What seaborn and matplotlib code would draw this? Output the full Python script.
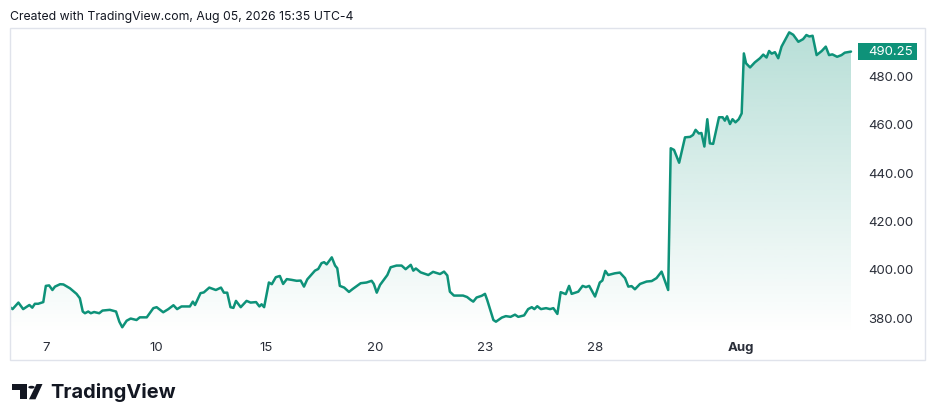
import numpy as np
import pandas as pd
import matplotlib
matplotlib.use("Agg")
import matplotlib.pyplot as plt
import seaborn as sns
from matplotlib.patches import Rectangle, Polygon, Circle
from matplotlib.transforms import blended_transform_factory

# ---- data (time in trading days since Jul 6, price) ----
t = [0.00, 0.07, 0.23, 0.36, 0.53, 0.61, 0.68, 0.77, 0.91, 0.98,
     1.07, 1.16, 1.23, 1.37, 1.46, 1.64, 1.82, 1.91, 1.99, 2.05,
     2.14, 2.21, 2.30, 2.44, 2.53, 2.73, 2.90, 2.99, 3.07, 3.19,
     3.30, 3.46, 3.55, 3.74, 3.92, 4.01, 4.19, 4.33, 4.47, 4.57,
     4.69, 4.92, 5.00, 5.06, 5.21, 5.30, 5.45, 5.63, 5.77, 5.85,
     5.94, 6.03, 6.11, 6.18, 6.31, 6.47, 6.58, 6.73, 6.82, 6.88,
     6.95, 7.08, 7.16, 7.27, 7.38, 7.47, 7.57, 7.70, 7.84, 7.95,
     8.04, 8.13, 8.34, 8.43, 8.52, 8.59, 8.66, 8.80, 8.89, 8.95,
     9.02, 9.14, 9.27, 9.37, 9.46, 9.59, 9.75, 9.89, 9.95, 10.03,
     10.12, 10.32, 10.41, 10.57, 10.71, 10.82, 10.96, 11.03, 11.10, 11.23,
     11.44, 11.57, 11.76, 11.87, 11.96, 12.03, 12.14, 12.39, 12.50, 12.60,
     12.67, 12.76, 12.90, 12.99, 13.05, 13.22, 13.29, 13.45, 13.56, 13.69,
     13.81, 13.90, 14.06, 14.17, 14.27, 14.34, 14.42, 14.52, 14.66, 14.77,
     14.86, 14.97, 15.06, 15.20, 15.29, 15.36, 15.54, 15.66, 15.75, 15.84,
     16.00, 16.13, 16.20, 16.28, 16.36, 16.54, 16.68, 16.82, 16.91, 17.00,
     17.09, 17.23, 17.41, 17.55, 17.68, 17.82, 18.00, 18.07, 18.16, 18.30,
     18.46, 18.60, 18.68, 18.75, 18.84, 18.91, 18.99, 19.07, 19.14, 19.23,
     19.39, 19.49, 19.55, 19.61, 19.69, 19.76, 19.84, 19.93, 20.01, 20.07,
     20.13, 20.24, 20.37, 20.51, 20.60, 20.69, 20.76, 20.83, 20.92, 21.01,
     21.10, 21.31, 21.42, 21.56, 21.69, 21.78, 21.86, 21.95, 22.06, 22.20,
     22.31, 22.40, 22.49, 22.62, 22.74, 22.83, 23.00]

price = [384.6, 383.8, 386.5, 383.8, 385.5, 384.4, 386.0, 386.0, 386.7, 393.4,
         393.6, 391.7, 393.1, 394.1, 394.0, 392.4, 390.1, 388.3, 382.8, 382.1,
         382.8, 382.1, 382.6, 382.1, 383.2, 383.5, 382.8, 378.6, 376.3, 379.0,
         379.9, 379.3, 380.4, 380.4, 384.2, 384.6, 382.5, 383.8, 385.4, 383.8,
         384.9, 384.9, 386.9, 385.5, 390.4, 390.7, 392.7, 391.7, 392.7, 390.6,
         390.6, 384.6, 384.3, 387.2, 384.6, 387.2, 386.5, 386.7, 384.9, 385.8,
         384.6, 394.8, 394.1, 397.0, 397.5, 394.2, 396.2, 395.9, 395.5, 395.6,
         393.1, 396.1, 399.7, 400.4, 402.8, 403.2, 402.3, 405.2, 401.8, 400.7,
         393.4, 392.7, 390.9, 392.1, 393.1, 394.5, 394.8, 395.5, 394.2, 390.6,
         393.8, 397.9, 401.1, 401.8, 401.8, 400.3, 402.1, 399.7, 400.6, 399.0,
         397.9, 399.2, 398.3, 399.3, 397.7, 391.0, 389.4, 389.4, 388.8, 387.6,
         386.9, 388.6, 389.3, 390.1, 387.6, 379.3, 378.6, 380.3, 380.9, 380.6,
         381.5, 380.6, 381.2, 383.8, 384.6, 383.8, 385.0, 383.8, 384.2, 383.8,
         384.2, 381.8, 390.8, 390.0, 393.4, 390.1, 391.0, 393.4, 392.9, 393.4,
         389.0, 394.8, 395.6, 399.6, 397.9, 398.6, 398.9, 396.6, 393.1, 393.3,
         392.0, 394.2, 395.2, 395.4, 396.6, 399.3, 391.7, 450.3, 449.6, 444.3,
         454.8, 455.0, 455.8, 457.9, 456.4, 456.6, 451.0, 462.3, 452.3, 452.1,
         463.1, 463.1, 461.7, 463.5, 460.3, 462.3, 461.0, 462.3, 464.7, 489.5,
         485.4, 483.7, 485.8, 487.5, 489.0, 487.8, 490.5, 489.4, 490.0, 487.5,
         492.3, 498.2, 497.2, 494.3, 495.4, 497.1, 496.5, 496.8, 488.8, 490.5,
         492.3, 488.8, 489.1, 488.1, 488.8, 489.8, 490.25]

tick_days = [1, 4, 7, 10, 13, 16, 20]
tick_labels = ["7", "10", "15", "20", "23", "28", "Aug"]
y_ticks = [380, 400, 420, 440, 460, 480]
last_price = 490.25
header = "Created with TradingView.com, Aug 05, 2026 15:35 UTC-4"
brand = "TradingView"

# ---- style ----
LINE = "#0e9279"
TXT = "#2a2e39"
sns.set_theme(style="white")
plt.rcParams['font.family'] = ['Inter', 'DejaVu Sans']

W, H = 936, 411
fig = plt.figure(figsize=(W / 100, H / 100), dpi=100)
fig.patch.set_facecolor("white")


def fx(px):
    return px / W


def fy(py):
    return 1 - py / H


ax_left, ax_right, ax_top, ax_bot = 10, 857, 28, 335
ax = fig.add_axes([fx(ax_left), fy(ax_bot), fx(ax_right) - fx(ax_left), fy(ax_top) - fy(ax_bot)])
ax.set_facecolor("white")

px_per_day = (851 - 10) / 23.0
xmin, xmax = 0.0, 23.0 + (ax_right - 851) / px_per_day
ymin, ymax = 373.1, 500.0

df = pd.DataFrame({"t": t, "price": price})

# gradient area fill
verts = list(zip(t, price)) + [(t[-1], ymin), (t[0], ymin)]
poly = Polygon(verts, closed=True, facecolor="none", edgecolor="none", transform=ax.transData)
ax.add_patch(poly)
rgb = matplotlib.colors.to_rgb(LINE)
grad = np.zeros((256, 1, 4))
grad[..., 0], grad[..., 1], grad[..., 2] = rgb
grad[..., 3] = np.linspace(0.30, 0.0, 256)[:, None]
im = ax.imshow(grad, extent=[xmin, xmax, ymin, ymax], aspect="auto", origin="upper", zorder=1)
im.set_clip_path(poly)

sns.lineplot(data=df, x="t", y="price", ax=ax, color=LINE, linewidth=1.8, zorder=3)

ax.set_xlim(xmin, xmax)
ax.set_ylim(ymin, ymax)
ax.set_xlabel("")
ax.set_ylabel("")
for s in ax.spines.values():
    s.set_visible(False)

ax.yaxis.tick_right()
ax.set_yticks(y_ticks)
ax.set_yticklabels([f"{v:.2f}" for v in y_ticks])
ax.tick_params(axis="y", length=0, pad=8, labelsize=9.5, labelcolor=TXT)
ax.set_xticks(tick_days)
ax.set_xticklabels(tick_labels)
ax.tick_params(axis="x", length=0, pad=5, labelsize=9.5, labelcolor=TXT)
ax.get_xticklabels()[-1].set_fontweight("bold")
ax.grid(False)

# last price label
trans = blended_transform_factory(ax.transAxes, ax.transData)
axw = ax_right - ax_left
ax.add_patch(Rectangle(((858 - ax_left) / axw, last_price - 3.6), 59 / axw, 7.2,
                       transform=trans, facecolor=LINE, edgecolor="none", clip_on=False, zorder=5))
ax.text((868 - ax_left) / axw, last_price, f"{last_price:.2f}", transform=trans,
        ha="left", va="center", color="white", fontsize=9.5, zorder=6, clip_on=False)

# frame
fig.add_artist(Rectangle((fx(10), fy(360)), fx(925) - fx(10), fy(28) - fy(360),
                         transform=fig.transFigure, fill=False, edgecolor="#e0e3eb", lw=1))

# header
fig.text(fx(10), fy(17), header, ha="left", va="center", fontsize=8.8, color="#131722")

# logo
def P(x, y):
    return (fx(x), fy(y))

logo_kw = dict(transform=fig.transFigure, facecolor="#131722", edgecolor="none")
fig.add_artist(Polygon([P(11.7, 384), P(27, 384), P(27, 399.3), P(20, 399.3), P(20, 390), P(11.7, 390)], **logo_kw))
fig.add_artist(Circle(P(31.5, 387.2), fx(3.2), **logo_kw))
fig.add_artist(Polygon([P(36.5, 384), P(42.5, 384), P(35.5, 399.3), P(29, 399.3)], **logo_kw))
fig.text(fx(50), fy(392), brand, ha="left", va="center", fontsize=14.4, fontweight="bold", color="#131722")

fig.savefig("out.png", dpi=100, facecolor="white")
